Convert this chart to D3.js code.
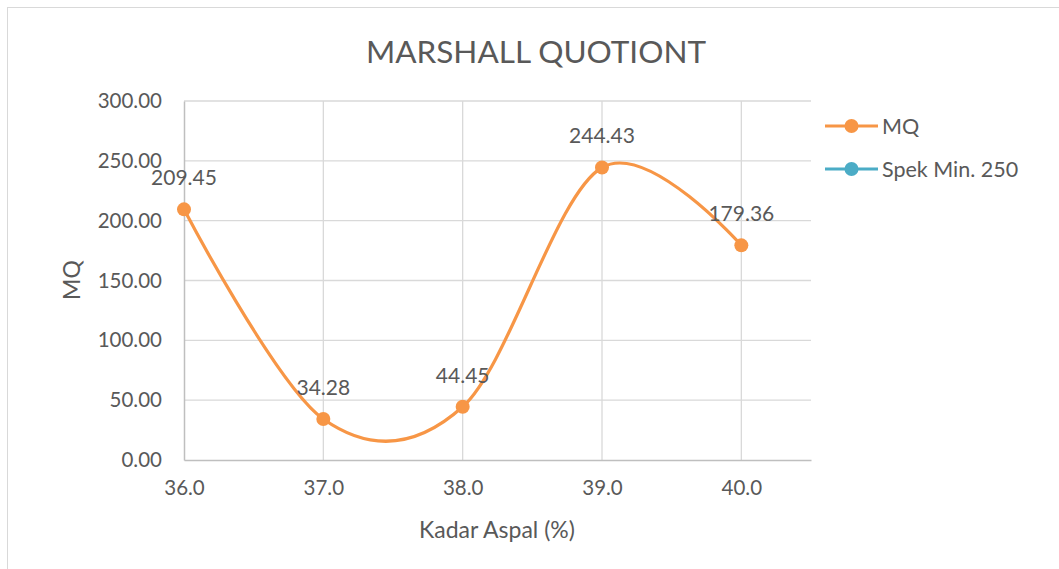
<!DOCTYPE html>
<html>
<head>
<meta charset="utf-8">
<script src="https://cdn.jsdelivr.net/npm/d3@7"></script>
<style>
  body { margin: 0; background: #fff; }
  svg text { font-family: Lato, "Open Sans", sans-serif; fill: #595959; }
</style>
</head>
<body>
<svg id="chart" width="1059" height="569"></svg>
<script>
const kadarAspal = [36.0, 37.0, 38.0, 39.0, 40.0];
const mqValues = [209.45, 34.28, 44.45, 244.43, 179.36];
// second series is only in the legend, no points visible
const spekValues = [];
const yTicks = [0, 50, 100, 150, 200, 250, 300];
const xTicks = [36, 37, 38, 39, 40];
const seriesNames = ["MQ", "Spek Min. 250"];

const svg = d3.select("#chart");
const margin = {top: 101, right: 248, bottom: 109, left: 184};
const width = 1059 - margin.left - margin.right;
const height = 569 - margin.top - margin.bottom;

const orange = "#F79646";
const blue = "#4BACC6";

// chart border
svg.append("rect")
  .attr("x", 7.5).attr("y", 7.5)
  .attr("width", 1070).attr("height", 580)
  .attr("fill", "none").attr("stroke", "#d9d9d9");

const g = svg.append("g").attr("transform", `translate(${margin.left},${margin.top})`);

const x = d3.scaleLinear().domain([36, 40.5]).range([0, width]);
const y = d3.scaleLinear().domain([0, 300]).range([height, 0]);

// gridlines
g.selectAll(".hgrid").data(yTicks.slice(1)).enter().append("line")
  .attr("x1", 0).attr("x2", width)
  .attr("y1", d => y(d)).attr("y2", d => y(d))
  .attr("stroke", "#d9d9d9").attr("stroke-width", 1.3);

g.selectAll(".vgrid").data(xTicks.slice(1)).enter().append("line")
  .attr("x1", d => x(d)).attr("x2", d => x(d))
  .attr("y1", 0).attr("y2", height)
  .attr("stroke", "#d9d9d9").attr("stroke-width", 1.3);

// axes
const xAxis = g.append("g")
  .attr("transform", `translate(0,${height})`)
  .call(d3.axisBottom(x).tickValues(xTicks).tickFormat(d3.format(".1f")).tickSize(0).tickPadding(20));
xAxis.select(".domain").attr("stroke", "#bfbfbf").attr("stroke-width", 1.5);
xAxis.selectAll("text").style("font-size", "20.5px");

const yAxis = g.append("g")
  .call(d3.axisLeft(y).tickValues(yTicks).tickFormat(d3.format(".2f")).tickSize(0).tickPadding(22));
yAxis.select(".domain").attr("stroke", "#bfbfbf").attr("stroke-width", 1.5);
yAxis.selectAll("text").style("font-size", "20.5px");

// line
const line = d3.line()
  .x((d, i) => x(kadarAspal[i]))
  .y(d => y(d))
  .curve(d3.curveCardinal.tension(0));

g.append("path")
  .datum(mqValues)
  .attr("fill", "none")
  .attr("stroke", orange)
  .attr("stroke-width", 3.2)
  .attr("d", line);

g.selectAll(".dot").data(mqValues).enter().append("circle")
  .attr("cx", (d, i) => x(kadarAspal[i]))
  .attr("cy", d => y(d))
  .attr("r", 7)
  .attr("fill", orange);

g.selectAll(".lbl").data(mqValues).enter().append("text")
  .attr("x", (d, i) => x(kadarAspal[i]))
  .attr("y", d => y(d) - 24)
  .attr("text-anchor", "middle")
  .style("font-size", "21px")
  .text(d => d3.format(".2f")(d));

g.append("path")
  .datum(spekValues)
  .attr("fill", "none")
  .attr("stroke", blue)
  .attr("stroke-width", 3.2)
  .attr("d", line);

// title
svg.append("text")
  .attr("x", 536).attr("y", 63)
  .attr("text-anchor", "middle")
  .style("font-size", "31.5px")
  .text("MARSHALL QUOTIONT");

// axis titles
svg.append("text")
  .attr("x", 497).attr("y", 538)
  .attr("text-anchor", "middle")
  .style("font-size", "23px")
  .text("Kadar Aspal (%)");

svg.append("text")
  .attr("transform", "translate(80,280) rotate(-90)")
  .attr("text-anchor", "middle")
  .style("font-size", "23px")
  .text("MQ");

// legend
const legend = svg.append("g").attr("transform", "translate(825,126)");
const colors = [orange, blue];
const item = legend.selectAll(".item").data(seriesNames).enter().append("g")
  .attr("transform", (d, i) => `translate(0,${i * 43})`);
item.append("line")
  .attr("x1", 0).attr("x2", 53)
  .attr("stroke", (d, i) => colors[i]).attr("stroke-width", 3.2);
item.append("circle")
  .attr("cx", 26.5).attr("r", 7)
  .attr("fill", (d, i) => colors[i]);
item.append("text")
  .attr("x", 57).attr("y", 8)
  .style("font-size", "21.5px")
  .text(d => d);
</script>
</body>
</html>
